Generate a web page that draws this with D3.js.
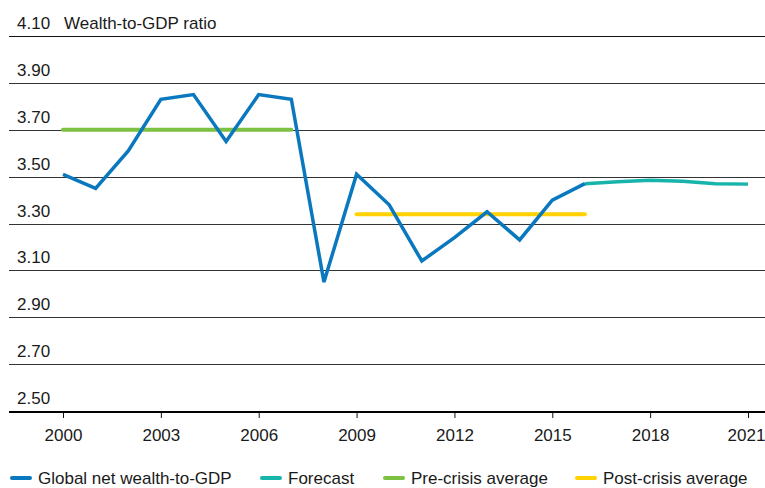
<!DOCTYPE html>
<html>
<head>
<meta charset="utf-8">
<script src="https://cdn.jsdelivr.net/npm/d3@7"></script>
<style>
	body { margin: 0; background: #fff; }
	text { font-family: "Liberation Sans", Arial, sans-serif; fill: #1a1a1a; }
</style>
</head>
<body>
<script>
// Wealth-to-GDP line chart
const width = 765;
const height = 488;
const margin = {top: 37, right: 17, bottom: 77, left: 9};

const years = d3.range(2000, 2017);
const wealthValues = [3.51, 3.45, 3.61, 3.83, 3.85, 3.65, 3.85, 3.83, 3.05, 3.51, 3.38, 3.14, 3.24, 3.35, 3.23, 3.40, 3.47];
const forecastYears = [2016, 2017, 2018, 2019, 2020, 2021];
const forecastValues = [3.47, 3.478, 3.485, 3.48, 3.47, 3.468];
const preCrisis = {from: 2000, to: 2007, value: 3.70};
const postCrisis = {from: 2009, to: 2016, value: 3.34};
const yTicks = [2.50, 2.70, 2.90, 3.10, 3.30, 3.50, 3.70, 3.90, 4.10];
const xTicks = [2000, 2003, 2006, 2009, 2012, 2015, 2018, 2021];
const legendItems = [
	{label: 'Global net wealth-to-GDP', color: '#0a78be', x: 10},
	{label: 'Forecast', color: '#17b4ab', x: 260},
	{label: 'Pre-crisis average', color: '#7cc142', x: 383},
	{label: 'Post-crisis average', color: '#ffd200', x: 575}
];

const fontSize = 17;

const svg = d3.select('body')
	.append('svg')
	.attr('width', width)
	.attr('height', height);

let xScale = d3.scaleLinear()
	.domain([2000, 2021])
	.range([63, 748]);

let yScale = d3.scaleLinear()
	.domain([2.50, 4.10])
	.range([height - margin.bottom, margin.top - 1]);

// Gridlines + labels
let grid = svg.append('g');
yTicks.forEach(t => {
	if (t === 2.50) return;
	grid.append('line')
		.attr('x1', margin.left).attr('x2', width)
		.attr('y1', Math.round(yScale(t)) + 0.5).attr('y2', Math.round(yScale(t)) + 0.5)
		.attr('stroke', t === 4.10 ? '#111' : '#333')
		.attr('stroke-width', 1);
});
yTicks.forEach(t => {
	svg.append('text')
		.attr('x', 17)
		.attr('y', yScale(t) - 7)
		.attr('font-size', fontSize)
		.text(t.toFixed(2));
});
svg.append('text')
	.attr('x', 64)
	.attr('y', yScale(4.10) - 7)
	.attr('font-size', fontSize)
	.text('Wealth-to-GDP ratio');

// X-axis
let xAxis = svg.append('g')
	.attr('transform', `translate(0, ${Math.round(yScale(2.50)) + 1})`)
	.call(d3.axisBottom(xScale).tickValues(xTicks).tickFormat(d3.format('d')).tickSize(6).tickPadding(11));
xAxis.select('.domain').remove();
xAxis.selectAll('.tick line').attr('stroke', '#111');
xAxis.selectAll('.tick text')
	.attr('font-size', fontSize)
	.attr('font-family', '"Liberation Sans", Arial, sans-serif')
	.attr('fill', '#1a1a1a')
	.attr('dx', d => d === 2021 ? -2 : 0);
xAxis.append('line')
	.attr('x1', margin.left).attr('x2', width)
	.attr('y1', 0).attr('y2', 0)
	.attr('stroke', '#000')
	.attr('stroke-width', 2);

// Averages
[[preCrisis, '#7cc142'], [postCrisis, '#ffd200']].forEach(([avg, color]) => {
	svg.append('line')
		.attr('x1', xScale(avg.from)).attr('x2', xScale(avg.to))
		.attr('y1', yScale(avg.value)).attr('y2', yScale(avg.value))
		.attr('stroke', color)
		.attr('stroke-width', 4)
		.attr('stroke-linecap', 'round');
});

// Lines
let line = d3.line()
	.x(d => xScale(d[0]))
	.y(d => yScale(d[1]));

svg.append('path')
	.attr('d', line(d3.zip(forecastYears, forecastValues)))
	.attr('fill', 'none')
	.attr('stroke', '#17b4ab')
	.attr('stroke-width', 3.5);

svg.append('path')
	.attr('d', line(d3.zip(years, wealthValues)))
	.attr('fill', 'none')
	.attr('stroke', '#0a78be')
	.attr('stroke-width', 3.5)
	.attr('stroke-linejoin', 'miter');

// Legend
let legend = svg.append('g')
	.attr('transform', 'translate(0, 478)');
legendItems.forEach(item => {
	legend.append('line')
		.attr('x1', item.x + 2).attr('x2', item.x + 20)
		.attr('y1', 0).attr('y2', 0)
		.attr('stroke', item.color)
		.attr('stroke-width', 4)
		.attr('stroke-linecap', 'round');
	legend.append('text')
		.attr('x', item.x + 28)
		.attr('y', 6)
		.attr('font-size', fontSize)
		.text(item.label);
});
</script>
</body>
</html>
